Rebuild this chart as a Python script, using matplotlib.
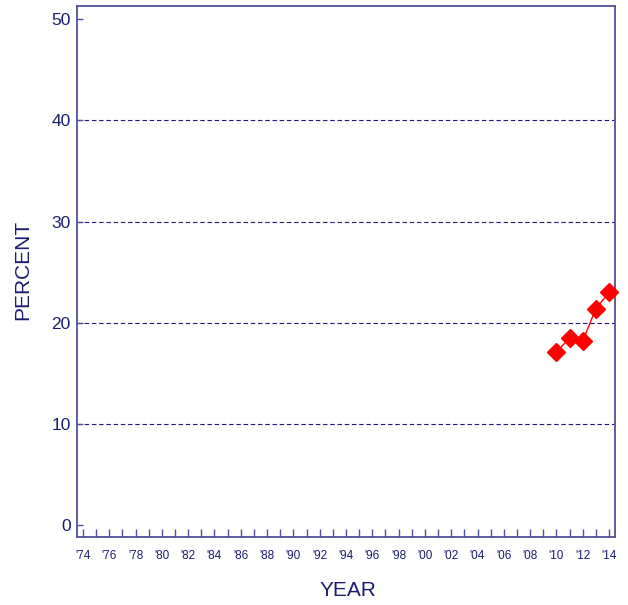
import matplotlib
matplotlib.use("Agg")
import matplotlib.pyplot as plt
from matplotlib.ticker import FixedLocator

years = [2010, 2011, 2012, 2013, 2014]
percent = [17.1, 18.5, 18.2, 21.4, 23.0]
major_years = list(range(1974, 2015, 2))
major_labels = ["'%02d" % (y % 100) for y in major_years]
y_ticks = [0, 10, 20, 30, 40, 50]

plt.rcParams['font.family'] = ['Liberation Sans', 'DejaVu Sans']
navy = '#1c1c6e'
spine = '#50509a'

fig = plt.figure(figsize=(6.28, 6.05), dpi=100)
ax = fig.add_axes([77/628, 1 - 537/605, (615-77)/628, (537-6)/605])

for g in [10, 20, 30, 40]:
    ax.axhline(g, color='#1c1c80', lw=0.8, ls=(0, (4, 2.5)), zorder=1)

ax.plot(years, percent, color='red', lw=1.0, marker='D', markersize=9.5,
        markerfacecolor='red', markeredgecolor='red', zorder=3, clip_on=False)

ax.set_xlim(1973.55, 2014.45)
ax.set_ylim(-1.18, 51.3)
ax.set_xticks(major_years)
ax.set_xticklabels(major_labels)
ax.xaxis.set_minor_locator(FixedLocator(range(1974, 2015)))
ax.set_yticks(y_ticks)

ax.tick_params(axis='x', which='both', direction='in', length=6, width=1,
               color=spine, labelcolor=navy, labelsize=8.5, pad=9.5)
ax.tick_params(axis='y', which='both', direction='in', length=4, width=1,
               color=spine, labelcolor=navy, labelsize=12.5, pad=4.5)
for s in ax.spines.values():
    s.set_color(spine)
    s.set_linewidth(1.3)

fig.text(348/628, 1 - 591/605, 'YEAR', ha='center', va='center', color=navy, fontsize=15)
fig.text(23/628, 1 - 270/605, 'PERCENT', ha='center', va='center', rotation=90,
         color=navy, fontsize=15)

fig.savefig('out.png', dpi=100)
